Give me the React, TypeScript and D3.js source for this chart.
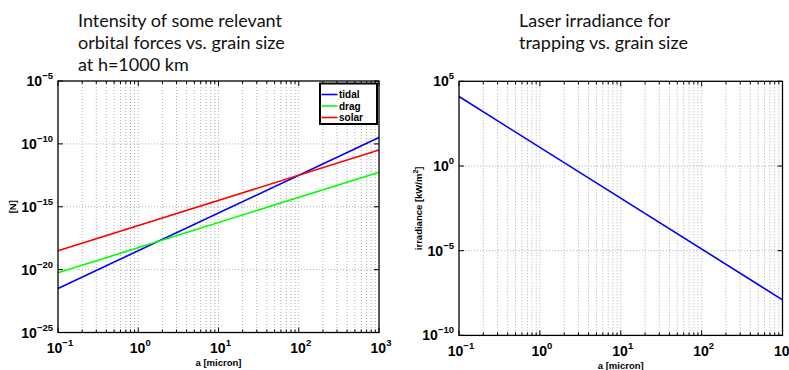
import React from "react";
import * as d3 from "d3";

// Grain radius (micron) at the ends of each power-law curve
const grainSize = [0.1, 1000];

// Orbital force intensities [N] at h = 1000 km
const tidalForce = [3.2e-22, 3.2e-10];
const dragForce = [5.6e-21, 5.6e-13];
const solarForce = [3.2e-19, 3.2e-11];

// Laser irradiance needed for trapping [kW/m^2]
const irradiance = [1.26e4, 1.26e-8];

const xTickExps = [-1, 0, 1, 2, 3];
const forceTickExps = [-25, -20, -15, -10, -5];
const irrTickExps = [-10, -5, 0, 5];

const legendNames = ["tidal", "drag", "solar"];
const legendColors = ["#0000ff", "#00ff00", "#ff0000"];

const AXIS_FONT = "'Liberation Sans', Arial, Helvetica, sans-serif";
const TITLE_FONT = "Lato, 'Open Sans', sans-serif";

type Series = { x: number[]; y: number[]; color: string };

function Pow10({ x, y, exp, anchor }: { x: number; y: number; exp: number; anchor: "end" | "middle" }) {
  const e = exp < 0 ? "\u2212" + Math.abs(exp) : String(exp);
  return (
    <text x={x} y={y} textAnchor={anchor} fontFamily={AXIS_FONT} fontWeight="bold" fontSize={14} fill="#000">
      10
      <tspan fontSize={9.5} dy={-7}>
        {e}
      </tspan>
    </text>
  );
}

function Panel({
  left,
  right,
  top,
  bottom,
  yDomain,
  yTickExps,
  series,
  yLabel,
  yLabelX,
  children,
}: {
  left: number;
  right: number;
  top: number;
  bottom: number;
  yDomain: [number, number];
  yTickExps: number[];
  series: Series[];
  yLabel: React.ReactNode;
  yLabelX: number;
  children?: React.ReactNode;
}) {
  const x = d3.scaleLog().domain([0.1, 1000]).range([left, right]);
  const y = d3.scaleLog().domain(yDomain).range([bottom, top]);
  const minor: number[] = [];
  for (let k = -1; k < 3; k++) {
    for (let m = 1; m < 10; m++) minor.push(m * Math.pow(10, k));
  }
  minor.push(1000);
  const line = d3
    .line<[number, number]>()
    .x((d) => x(d[0]))
    .y((d) => y(d[1]));

  return (
    <g>
      {/* vertical dotted grid at every decade subdivision */}
      {minor.map((v, i) => {
        const px = x(v);
        if (px <= left + 0.5 || px >= right - 0.5) return null;
        return (
          <line key={"gx" + i} x1={px} x2={px} y1={top} y2={bottom} stroke="#9a9a9a" strokeWidth={0.8} strokeDasharray="1,2" />
        );
      })}
      {/* horizontal dotted grid at major ticks */}
      {yTickExps.map((e) => {
        const py = y(Math.pow(10, e));
        if (py <= top + 0.5 || py >= bottom - 0.5) return null;
        return (
          <line key={"gy" + e} x1={left} x2={right} y1={py} y2={py} stroke="#9a9a9a" strokeWidth={0.8} strokeDasharray="1,2" />
        );
      })}
      {/* minor/major ticks on x axis */}
      {minor.map((v, i) => {
        const px = x(v);
        const major = Math.abs(Math.log10(v) - Math.round(Math.log10(v))) < 1e-9;
        const len = major ? 5 : 3;
        return (
          <g key={"tx" + i}>
            <line x1={px} x2={px} y1={bottom} y2={bottom - len} stroke="#000" strokeWidth={1} />
            <line x1={px} x2={px} y1={top} y2={top + len} stroke="#000" strokeWidth={1} />
          </g>
        );
      })}
      {yTickExps.map((e) => {
        const py = y(Math.pow(10, e));
        return (
          <g key={"ty" + e}>
            <line x1={left} x2={left + 5} y1={py} y2={py} stroke="#000" strokeWidth={1} />
            <line x1={right} x2={right - 5} y1={py} y2={py} stroke="#000" strokeWidth={1} />
          </g>
        );
      })}
      {series.map((s, i) => (
        <path
          key={"s" + i}
          d={line(s.x.map((xv, j) => [xv, s.y[j]] as [number, number])) || ""}
          fill="none"
          stroke={s.color}
          strokeWidth={1.6}
        />
      ))}
      <rect x={left} y={top} width={right - left} height={bottom - top} fill="none" stroke="#000" strokeWidth={1.3} />
      {xTickExps.map((e) => (
        <Pow10 key={"lx" + e} x={x(Math.pow(10, e)) + 2} y={bottom + 20.5} exp={e} anchor="middle" />
      ))}
      {yTickExps.map((e) => (
        <Pow10 key={"ly" + e} x={left - 5} y={y(Math.pow(10, e)) + 5} exp={e} anchor="end" />
      ))}
      <text
        x={(left + right) / 2}
        y={bottom + 33.5}
        textAnchor="middle"
        fontFamily={AXIS_FONT}
        fontWeight="bold"
        fontSize={9.5}
      >
        a [micron]
      </text>
      <text
        transform={`translate(${yLabelX},${(top + bottom) / 2}) rotate(-90)`}
        textAnchor="middle"
        fontFamily={AXIS_FONT}
        fontWeight="bold"
        fontSize={9.5}
      >
        {yLabel}
      </text>
      {children}
    </g>
  );
}

export default function App() {
  const L = { left: 58, right: 379, top: 81, bottom: 332.5 };
  const R = { left: 459, right: 782.5, top: 81.3, bottom: 335.4 };
  const forces: Series[] = [
    { x: grainSize, y: tidalForce, color: legendColors[0] },
    { x: grainSize, y: dragForce, color: legendColors[1] },
    { x: grainSize, y: solarForce, color: legendColors[2] },
  ];
  const legX = 320;
  const legY = 83.5;
  return (
    <svg
      width={789}
      height={370}
      style={{ position: "absolute", left: 0, top: 0, background: "#fff" }}
    >
      <rect x={0} y={0} width={789} height={370} fill="#fff" />
      <g fontFamily={TITLE_FONT} fontSize={18} fill="#111">
        <text x={78} y={27}>Intensity of some relevant</text>
        <text x={78} y={49}>orbital forces vs. grain size</text>
        <text x={78} y={71}>at h=1000 km</text>
        <text x={519} y={27}>Laser irradiance for</text>
        <text x={519} y={49}>trapping vs. grain size</text>
      </g>
      <Panel
        {...L}
        yDomain={[1e-25, 1e-5]}
        yTickExps={forceTickExps}
        series={forces}
        yLabel="[N]"
        yLabelX={15.5}
      >
        <rect x={legX} y={legY} width={57} height={40.5} fill="#fff" stroke="#000" strokeWidth={2} />
        {legendNames.map((name, i) => (
          <g key={name}>
            <line x1={legX + 1.5} x2={legX + 17.5} y1={legY + 11 + i * 11.5} y2={legY + 11 + i * 11.5} stroke={legendColors[i]} strokeWidth={1.6} />
            <text x={legX + 19} y={legY + 14.5 + i * 11.5} fontFamily={AXIS_FONT} fontWeight="bold" fontSize={10}>
              {name}
            </text>
          </g>
        ))}
      </Panel>
      <Panel
        {...R}
        yDomain={[1e-10, 1e5]}
        yTickExps={irrTickExps}
        series={[{ x: grainSize, y: irradiance, color: "#0000ff" }]}
        yLabel={
          <>
            irradiance [kW/m
            <tspan fontSize={7} dy={-4}>
              2
            </tspan>
            <tspan dy={4}>]</tspan>
          </>
        }
        yLabelX={421.5}
      />
    </svg>
  );
}
